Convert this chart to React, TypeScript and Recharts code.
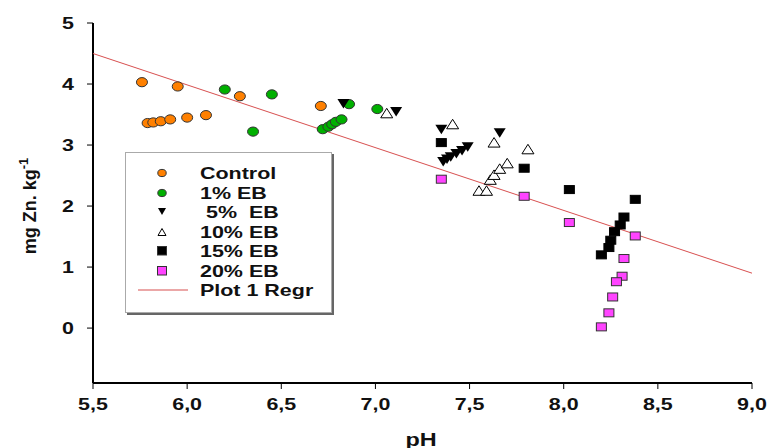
import React from 'react';
import { ScatterChart, Scatter, XAxis, YAxis } from 'recharts';

// pH / mg Zn.kg-1
const controlPts = [
  { x: 5.76, y: 4.03 }, { x: 5.95, y: 3.96 }, { x: 6.28, y: 3.8 },
  { x: 5.79, y: 3.36 }, { x: 5.82, y: 3.37 }, { x: 5.86, y: 3.39 },
  { x: 5.91, y: 3.42 }, { x: 6.0, y: 3.45 }, { x: 6.1, y: 3.49 },
  { x: 6.71, y: 3.64 },
];
const eb1Pts = [
  { x: 6.2, y: 3.91 }, { x: 6.45, y: 3.83 }, { x: 6.35, y: 3.22 },
  { x: 6.86, y: 3.67 }, { x: 7.01, y: 3.59 }, { x: 6.72, y: 3.26 },
  { x: 6.75, y: 3.3 }, { x: 6.77, y: 3.34 }, { x: 6.79, y: 3.38 },
  { x: 6.82, y: 3.42 },
];
const eb5Pts = [
  { x: 6.83, y: 3.68 }, { x: 7.11, y: 3.55 }, { x: 7.35, y: 3.26 },
  { x: 7.66, y: 3.2 }, { x: 7.36, y: 2.73 }, { x: 7.38, y: 2.77 },
  { x: 7.4, y: 2.81 }, { x: 7.43, y: 2.86 }, { x: 7.46, y: 2.91 },
  { x: 7.49, y: 2.97 },
];
const eb10Pts = [
  { x: 7.06, y: 3.52 }, { x: 7.41, y: 3.34 }, { x: 7.63, y: 3.04 },
  { x: 7.81, y: 2.93 }, { x: 7.55, y: 2.25 }, { x: 7.59, y: 2.25 },
  { x: 7.61, y: 2.43 }, { x: 7.63, y: 2.51 }, { x: 7.66, y: 2.61 },
  { x: 7.7, y: 2.7 },
];
const eb15Pts = [
  { x: 7.35, y: 3.04 }, { x: 7.79, y: 2.62 }, { x: 8.03, y: 2.27 },
  { x: 8.38, y: 2.11 }, { x: 8.2, y: 1.2 }, { x: 8.24, y: 1.32 },
  { x: 8.25, y: 1.44 }, { x: 8.27, y: 1.58 }, { x: 8.3, y: 1.69 },
  { x: 8.32, y: 1.82 },
];
const eb20Pts = [
  { x: 7.35, y: 2.44 }, { x: 7.79, y: 2.16 }, { x: 8.03, y: 1.73 },
  { x: 8.38, y: 1.51 }, { x: 8.32, y: 1.14 }, { x: 8.31, y: 0.85 },
  { x: 8.28, y: 0.76 }, { x: 8.26, y: 0.51 }, { x: 8.24, y: 0.25 },
  { x: 8.2, y: 0.02 },
];
const regrPts = [{ x: 5.5, y: 4.5 }, { x: 9.0, y: 0.9 }];

const xTicks = [5.5, 6.0, 6.5, 7.0, 7.5, 8.0, 8.5, 9.0];
const yTicks = [0, 1, 2, 3, 4, 5];

const font = '"Liberation Sans", Arial, sans-serif';
const ink = '#111';

const circle = (fill: string) => (p: any) => (
  <ellipse cx={p.cx} cy={p.cy} rx={5.5} ry={4.6} fill={fill} stroke="#333" strokeWidth={1} />
);
const triDown = (p: any) => (
  <path d={`M${p.cx - 6},${p.cy - 4.5}L${p.cx + 6},${p.cy - 4.5}L${p.cx},${p.cy + 5}Z`} fill="#000" />
);
const triUp = (p: any) => (
  <path d={`M${p.cx - 6},${p.cy + 4.5}L${p.cx + 6},${p.cy + 4.5}L${p.cx},${p.cy - 5}Z`} fill="#fff" stroke="#000" strokeWidth={1} />
);
const square = (fill: string, stroke: string) => (p: any) => (
  <rect x={p.cx - 5} y={p.cy - 4} width={10} height={8} fill={fill} stroke={stroke} strokeWidth={1} />
);
const noDot = () => <g />;

const XTick = (p: any) => (
  <text transform={`translate(${p.x},${p.y + 19}) scale(1.3,1)`} textAnchor="middle"
    fontFamily={font} fontWeight="bold" fontSize={16.5} fill={ink}>
    {p.payload.value.toFixed(1).replace('.', ',')}
  </text>
);
const YTick = (p: any) => (
  <text transform={`translate(${p.x},${p.y + 6}) scale(1.3,1)`} textAnchor="end"
    fontFamily={font} fontWeight="bold" fontSize={16.5} fill={ink}>
    {p.payload.value}
  </text>
);
const XLabel = () => (
  <text transform="translate(421,446) scale(1.3,1)" textAnchor="middle"
    fontFamily={font} fontWeight="bold" fontSize={18} fill={ink}>pH</text>
);
const YLabel = () => (
  <text transform="translate(36,206) rotate(-90)" textAnchor="middle"
    fontFamily={font} fontWeight="bold" fontSize={18} fill={ink}>
    mg Zn. kg<tspan dy={-8} fontSize={13}>-1</tspan>
  </text>
);

const legendItems = [
  { label: 'Control', kind: 'circle', color: '#ff8000' },
  { label: '1% EB', kind: 'circle', color: '#00b000' },
  { label: ' 5%  EB', kind: 'down', color: '#000' },
  { label: '10% EB', kind: 'up', color: '#fff' },
  { label: '15% EB', kind: 'square', color: '#000' },
  { label: '20% EB', kind: 'square', color: '#ff44ff' },
  { label: 'Plot 1 Regr', kind: 'line', color: '#d85050' },
];

const LegendBox = () => (
  <div style={{
    position: 'absolute', left: 125, top: 152, width: 207, height: 161,
    border: '1px solid #aaa', boxShadow: '2px 2px 0 #666', background: '#fff',
    boxSizing: 'border-box', fontFamily: font, fontWeight: 'bold', fontSize: 16.5, color: ink,
  }}>
    {legendItems.map((it, i) => (
      <div key={it.label} style={{ position: 'absolute', left: 0, top: 20 + 19.5 * i - 10, height: 20, width: 205 }}>
        <svg width={70} height={20} style={{ position: 'absolute', left: 0, top: 0 }}>
          {it.kind === 'circle' && <ellipse cx={36} cy={10} rx={4.2} ry={3.6} fill={it.color} stroke="#333" />}
          {it.kind === 'down' && <path d="M32,6L40,6L36,13Z" fill="#000" />}
          {it.kind === 'up' && <path d="M32,13.5L40,13.5L36,6.5Z" fill="#fff" stroke="#000" />}
          {it.kind === 'square' && <rect x={31.5} y={5.5} width={9} height={8.5} fill={it.color} stroke="#333" />}
          {it.kind === 'line' && <line x1={12} y1={10} x2={62} y2={10} stroke={it.color} strokeWidth={1.2} />}
        </svg>
        <span style={{
          position: 'absolute', left: 74, top: 0, lineHeight: '20px', whiteSpace: 'pre',
          transform: 'scaleX(1.3)', transformOrigin: 'left center',
        }}>{it.label}</span>
      </div>
    ))}
  </div>
);

export default function App() {
  return (
    <div style={{ position: 'absolute', left: 0, top: 0, width: 767, height: 448, background: '#fff', overflow: 'hidden' }}>
      <ScatterChart width={767} height={448} margin={{ top: 23, right: 15, bottom: 0, left: 0 }}>
        <XAxis
          type="number" dataKey="x" domain={[5.5, 9]} ticks={xTicks} height={65} allowDataOverflow
          axisLine={{ stroke: '#000', strokeWidth: 2 }} tickLine={{ stroke: '#000' }} tickSize={6} tickMargin={2}
          tick={<XTick />} label={<XLabel />}
        />
        <YAxis
          type="number" dataKey="y" domain={[-0.9, 5]} ticks={yTicks} width={93} allowDataOverflow
          axisLine={{ stroke: '#000', strokeWidth: 2 }} tickLine={{ stroke: '#000' }} tickSize={6} tickMargin={13}
          tick={<YTick />} label={<YLabel />}
        />
        <Scatter name="Plot 1 Regr" data={regrPts} line={{ stroke: '#d85050', strokeWidth: 1 }} shape={noDot} isAnimationActive={false} />
        <Scatter name="Control" data={controlPts} shape={circle('#ff8000')} isAnimationActive={false} />
        <Scatter name="1% EB" data={eb1Pts} shape={circle('#00b000')} isAnimationActive={false} />
        <Scatter name="5% EB" data={eb5Pts} shape={triDown} isAnimationActive={false} />
        <Scatter name="10% EB" data={eb10Pts} shape={triUp} isAnimationActive={false} />
        <Scatter name="15% EB" data={eb15Pts} shape={square('#000', '#000')} isAnimationActive={false} />
        <Scatter name="20% EB" data={eb20Pts} shape={square('#ff44ff', '#333')} isAnimationActive={false} />
      </ScatterChart>
      <LegendBox />
    </div>
  );
}
